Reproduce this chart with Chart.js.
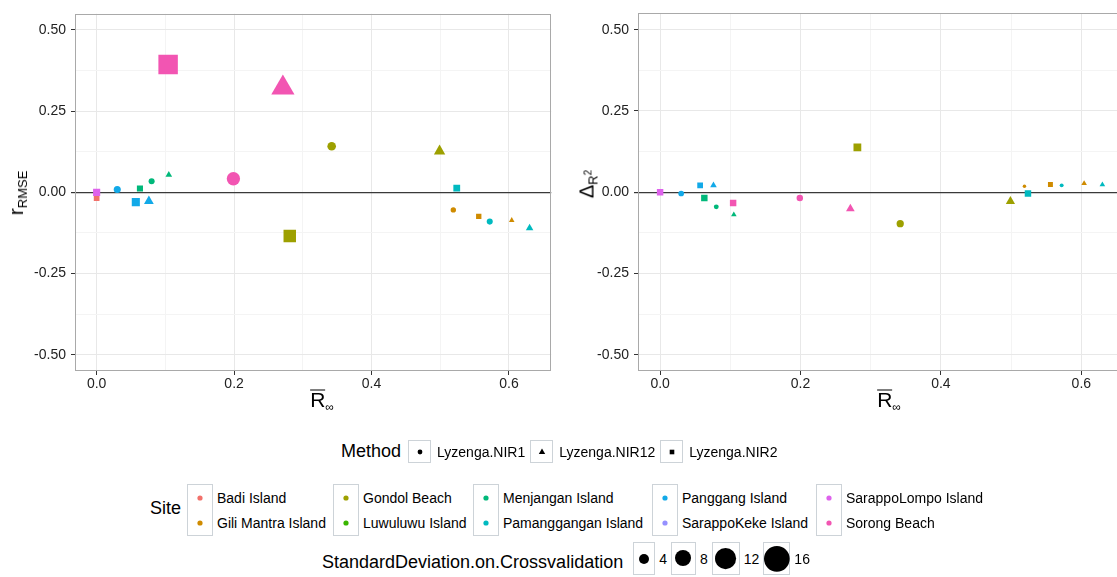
<!DOCTYPE html>
<html>
<head>
<meta charset="utf-8">
<script src="https://cdn.jsdelivr.net/npm/chart.js@4.4.1/dist/chart.umd.min.js"></script>
<style>
html, body { margin: 0; padding: 0; background: #fff; overflow: hidden; width: 1117px; height: 577px;
  font-family: 'Liberation Sans', Arial, Helvetica, sans-serif; color: #000; }
.panel { position: absolute; top: 0; }
.ttl { position: absolute; white-space: nowrap; line-height: 1; transform: translate(-50%, -50%); color: #000; }
.ttl.rot { transform: translate(-50%, -50%) rotate(-90deg); }
.ttl sub { font-size: 13px; vertical-align: -4px; }
.ov { display: inline-block; border-top: 1.3px solid #000; line-height: 0.78; padding-top: 1px; }
.leg { position: absolute; display: flex; align-items: center; font-size: 14px; white-space: nowrap; }
.leg .head { font-size: 18px; }
.key { box-sizing: border-box; border: 1px solid #cdd3d8; background: #fff; display: flex; align-items: center; justify-content: center; }
.key svg { display: block; }
</style>
</head>
<body>
<div class="panel" style="left:0;width:565px;height:400px"><canvas id="left" width="565" height="400"></canvas></div>
<div class="panel" style="left:565px;width:565px;height:400px"><canvas id="right" width="565" height="400"></canvas></div>

<div class="ttl rot" style="left:17px;top:193px"><span style="font-size:21px">r</span><sub>RMSE</sub></div>
<div class="ttl rot" style="left:588px;top:184px"><span style="font-size:20px">&Delta;</span><sub>R<sup style="font-size:10px;vertical-align:6px">2</sup></sub></div>
<div class="ttl" style="left:322px;top:401px"><span class="ov" style="font-size:21px">R</span><sub style="font-size:12px">&infin;</sub></div>
<div class="ttl" style="left:889px;top:401px"><span class="ov" style="font-size:21px">R</span><sub style="font-size:12px">&infin;</sub></div>

<div id="legends"></div>

<script>
// sites / methods (ggplot hue palette order)
const sites = ['Badi Island', 'Gili Mantra Island', 'Gondol Beach', 'Luwuluwu Island', 'Menjangan Island',
  'Pamanggangan Island', 'Panggang Island', 'SarappoKeke Island', 'SarappoLompo Island', 'Sorong Beach'];
const siteColors = ['#F2716B', '#CF8B00', '#9DA000', '#39B600', '#00B87A',
  '#00BAC0', '#12A9E8', '#9590FF', '#DE62EC', '#F255B2'];
const methods = ['Lyzenga.NIR1', 'Lyzenga.NIR12', 'Lyzenga.NIR2'];
const sdBreaks = [4, 8, 12, 16];

// ticks and labels
const xTicks = [0, 0.2, 0.4, 0.6];
const xTickLabels = ['0.0', '0.2', '0.4', '0.6'];
const xMinor = [0.1, 0.3, 0.5];
const yTicks = [-0.5, -0.25, 0, 0.25, 0.5];
const yTickLabels = ['-0.50', '-0.25', '0.00', '0.25', '0.50'];
const yMinor = [-0.375, -0.125, 0.125, 0.375];

// one entry per point, in drawing order (first ten sit at the origin, hidden)
const ptSite   = [0, 0, 3, 3, 3, 7, 7, 7, 8, 8,  0, 8,  6, 6, 6,  4, 4, 4,  9, 9, 9,  2, 2, 2,  1, 5, 1, 5, 1, 5];
const ptMethod = [0, 1, 0, 1, 2, 0, 1, 2, 0, 1,  2, 2,  0, 2, 1,  2, 0, 1,  2, 0, 1,  2, 0, 1,  0, 2, 2, 0, 1, 1];
const rInf     = [0, 0, 0, 0, 0, 0, 0, 0, 0, 0,  0, 0,
  0.030, 0.057, 0.076,  0.063, 0.080, 0.105,  0.104, 0.199, 0.271,  0.281, 0.342, 0.499,
  0.519, 0.524, 0.556, 0.572, 0.604, 0.630];
const rRMSE    = [0, 0, 0, 0, 0, 0, 0, 0, 0, 0,  -0.018, 0.000,
  0.009, -0.030, -0.027,  0.012, 0.034, 0.054,  0.394, 0.042, 0.322,  -0.134, 0.142, 0.127,
  -0.054, 0.013, -0.074, -0.090, -0.086, -0.110];
const sdRMSE   = [1, 1, 1, 1, 1, 1, 1, 1, 1, 1,  2.1, 2.9,
  2.4, 3.5, 2.5,  2.3, 1.9, 1.4,  12.7, 6.1, 8.9,  6.6, 3.2, 3.1,
  1.6, 2.7, 1.9, 1.9, 1.1, 1.7];
const dR2      = [0, 0, 0, 0, 0, 0, 0, 0, 0, 0,  0.000, 0.000,
  -0.004, 0.021, 0.021,  -0.018, -0.045, -0.069,  -0.033, -0.018, -0.051,  0.138, -0.097, -0.028,
  0.018, -0.004, 0.024, 0.021, 0.027, 0.023];
const sdR2     = [1, 1, 1, 1, 1, 1, 1, 1, 1, 1,  2.0, 2.5,
  1.75, 2.1, 1.4,  2.5, 1.4, 1.1,  2.5, 2.1, 2.1,  3.3, 2.5, 2.3,
  0.85, 2.5, 1.7, 1.0, 1.1, 1.1];

// ---- drawing ----
const shapes = ['circle', 'triangle', 'rect'];
const shapeScale = [1, 1.555, 1.253];   // same area as the circle, like R's pch 19/17/15
const sizePx = sd => 1.95 * Math.pow(sd, 0.68);
const near = (a, b) => Math.abs(a - b) < 1e-6;
const isIn = (v, arr) => arr.some(t => near(t, v));

const panelBorder = {
  id: 'panelBorder',
  afterDraw(chart) {
    const a = chart.chartArea, c = chart.ctx;
    c.save();
    c.strokeStyle = '#a9a9a9';
    c.lineWidth = 1;
    c.strokeRect(Math.round(a.left) + 0.5, Math.round(a.top) + 0.5,
      Math.round(a.right - a.left) - 1, Math.round(a.bottom - a.top) - 1);
    c.restore();
  }
};

function makePanel(id, yVals, sdVals, axisWidth) {
  const pts = rInf.map((x, i) => ({ x: x, y: yVals[i] }));
  const tickFont = { family: "'Liberation Sans', Arial, sans-serif", size: 14 };
  return new Chart(document.getElementById(id), {
    type: 'scatter',
    data: {
      datasets: [{
        data: pts,
        pointStyle: ctx => shapes[ptMethod[ctx.dataIndex]],
        pointRadius: ctx => sizePx(sdVals[ctx.dataIndex]) * shapeScale[ptMethod[ctx.dataIndex]],
        pointHoverRadius: ctx => sizePx(sdVals[ctx.dataIndex]) * shapeScale[ptMethod[ctx.dataIndex]],
        backgroundColor: ctx => siteColors[ptSite[ctx.dataIndex]],
        borderWidth: 0
      }]
    },
    options: {
      responsive: false,
      animation: false,
      layout: { padding: { top: 12, right: 5, left: 0, bottom: 0 } },
      plugins: { legend: { display: false }, tooltip: { enabled: false } },
      scales: {
        x: {
          type: 'linear', min: -0.0315, max: 0.6615,
          afterBuildTicks: s => { s.ticks = xTicks.concat(xMinor).sort((a, b) => a - b).map(v => ({ value: v })); },
          afterFit: s => { s.height = 29; s.paddingLeft = 0; s.paddingRight = 0; },
          border: { display: false },
          grid: {
            color: ctx => isIn(ctx.tick.value, xTicks) ? '#e8e8e8' : '#f4f4f4',
            tickColor: ctx => isIn(ctx.tick.value, xTicks) ? '#333' : 'rgba(0,0,0,0)',
            tickLength: 4, lineWidth: 1
          },
          ticks: {
            autoSkip: false, maxRotation: 0, padding: 1, color: '#222', font: tickFont,
            callback: v => { const k = xTicks.findIndex(t => near(t, v)); return k < 0 ? '' : xTickLabels[k]; }
          }
        },
        y: {
          type: 'linear', min: -0.55, max: 0.55,
          afterBuildTicks: s => { s.ticks = yTicks.concat(yMinor).sort((a, b) => a - b).map(v => ({ value: v })); },
          afterFit: s => { s.width = axisWidth; },
          border: { display: false },
          grid: {
            color: ctx => near(ctx.tick.value, 0) ? '#3a3a3a' : (isIn(ctx.tick.value, yTicks) ? '#e8e8e8' : '#f4f4f4'),
            lineWidth: ctx => near(ctx.tick.value, 0) ? 1.2 : 1,
            tickColor: ctx => isIn(ctx.tick.value, yTicks) ? '#333' : 'rgba(0,0,0,0)',
            tickLength: 4
          },
          ticks: {
            autoSkip: false, padding: 5, color: '#222', font: tickFont,
            callback: v => { const k = yTicks.findIndex(t => near(t, v)); return k < 0 ? '' : yTickLabels[k]; }
          }
        }
      }
    },
    plugins: [panelBorder]
  });
}

makePanel('left', rRMSE, sdRMSE, 75);
makePanel('right', dR2, sdR2, 73);

// ---- legends (html) ----
const methodGlyph = [
  '<circle cx="11" cy="11" r="2.4" fill="#000"/>',
  '<polygon points="11,7.6 14.2,13.1 7.8,13.1" fill="#000"/>',
  '<rect x="8.7" y="8.7" width="4.6" height="4.6" fill="#000"/>'
];
let html = '';

// Method
html += '<div class="leg" style="left:341px;top:440px"><span class="head">Method</span>';
methods.forEach((m, i) => {
  html += '<div class="key" style="width:23px;height:23px;margin-left:' + (i ? 5 : 7) + 'px">' +
    '<svg width="22" height="22">' + methodGlyph[i] + '</svg></div><span style="margin-left:6px">' + m + '</span>';
});
html += '</div>';

// Site: two rows, filled column by column
html += '<div class="leg" style="left:150px;top:498px"><span class="head">Site</span></div>';
const siteCols = [187, 333, 473, 652, 816];
siteCols.forEach((x0, c) => {
  [0, 1].forEach(r => {
    const s = c * 2 + r;
    html += '<div class="leg" style="left:' + x0 + 'px;top:' + (484 + r * 26) + 'px">' +
      '<div class="key" style="width:26px;height:' + (r ? 26 : 27) + 'px' + (r ? ';border-top:none' : '') + '">' +
      '<svg width="10" height="10"><circle cx="5" cy="5" r="2.6" fill="' + siteColors[s] + '"/></svg></div>' +
      '<span style="margin-left:4px">' + sites[s] + '</span></div>';
  });
});

// StandardDeviation
html += '<div class="leg" style="left:322px;top:542px;height:33px"><span class="head" style="margin-top:7px">StandardDeviation.on.Crossvalidation</span>';
const keyW = [22, 25, 28, 27];
sdBreaks.forEach((b, i) => {
  const r = sizePx(b);
  html += '<div class="key" style="width:' + keyW[i] + 'px;height:33px;margin-left:' + (i ? 4 : 10) + 'px;overflow:visible">' +
    '<svg width="' + (2 * r + 2) + '" height="' + (2 * r + 2) + '" style="overflow:visible"><circle cx="' + (r + 1) + '" cy="' + (r + 1) + '" r="' + r + '" fill="#000"/></svg></div>' +
    '<span style="margin-left:4px">' + b + '</span>';
});
html += '</div>';

document.getElementById('legends').innerHTML = html;
</script>
</body>
</html>
